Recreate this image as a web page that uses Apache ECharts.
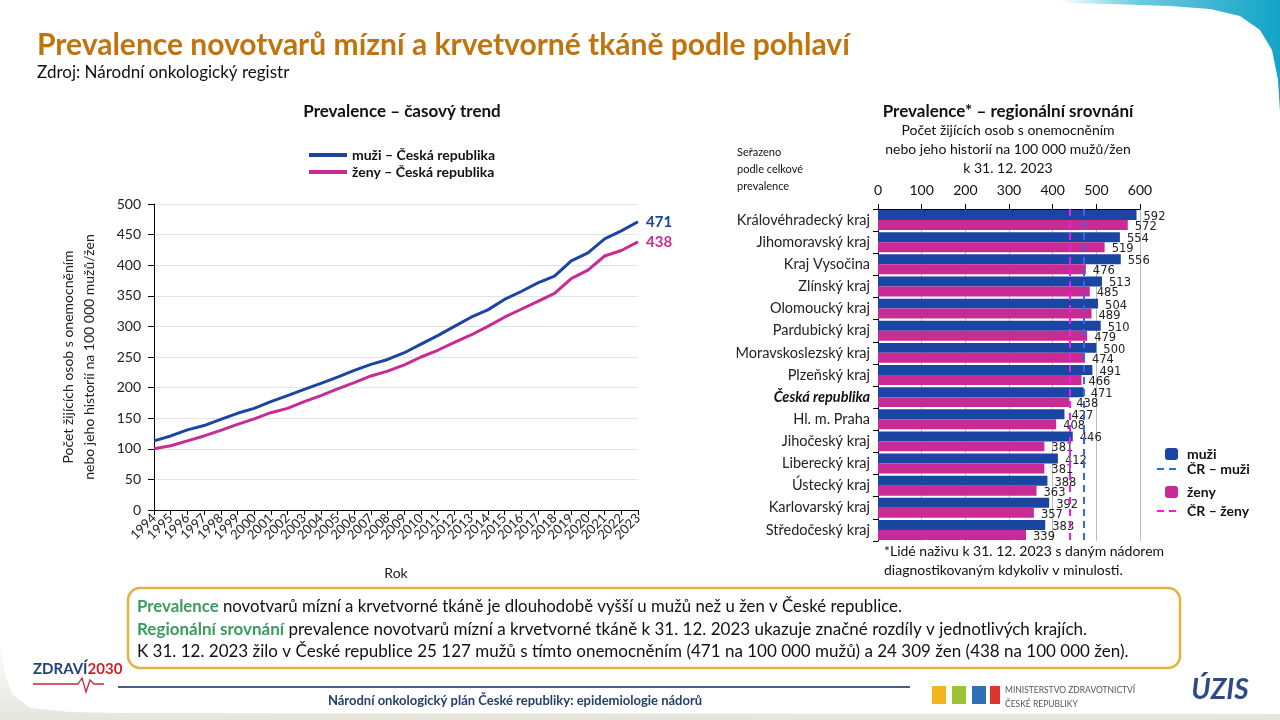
<!DOCTYPE html>
<html><head><meta charset="utf-8">
<script src="https://cdn.jsdelivr.net/npm/echarts@6/dist/echarts.min.js"></script>
<style>html,body{margin:0;padding:0;background:#fff}#c{width:1280px;height:720px}</style>
</head><body><div id="c"></div>
<script>
const FONT = 'Lato, "Open Sans", sans-serif';
const LFONT = '"DejaVu Sans", Verdana, sans-serif';
const years = ['1994','1995','1996','1997','1998','1999','2000','2001','2002','2003','2004','2005','2006','2007','2008','2009','2010','2011','2012','2013','2014','2015','2016','2017','2018','2019','2020','2021','2022','2023'];
const menTrend = [113,121,131,138,148,158,166,177,187,197,207,217,228,238,246,257,271,285,300,315,327,344,357,371,382,407,420,443,456,471];
const womenTrend = [100,105,113,121,130,140,149,159,166,177,187,198,208,219,227,237,250,261,274,286,300,315,328,341,354,378,392,415,424,438];
const regions = ['Královéhradecký kraj','Jihomoravský kraj','Kraj Vysočina','Zlínský kraj','Olomoucký kraj','Pardubický kraj','Moravskoslezský kraj','Plzeňský kraj','Česká republika','Hl. m. Praha','Jihočeský kraj','Liberecký kraj','Ústecký kraj','Karlovarský kraj','Středočeský kraj'];
const menRegion = [592,554,556,513,504,510,500,491,471,427,446,412,388,392,383];
const womenRegion = [572,519,476,485,489,479,474,466,438,408,381,381,363,357,339];
const crMen = 471, crWomen = 438;

const BLUE = '#1B45A2', PINK = '#C92B95', DBLUE = '#3566EE', DPINK = '#F01BEA';
const lin = (x2,y2,stops) => ({type:'linear', x:0, y:0, x2, y2, colorStops:stops.map(s=>({offset:s[0], color:s[1]}))});

const chart = echarts.init(document.getElementById('c'), null, {renderer:'canvas'});
const txt = (x,y,text,style) => ({type:'text', x, y, style:Object.assign({text, fontFamily:FONT, fill:'#111'}, style)});
const barLabel = {show:true, position:'right', distance:7, offset:[0,2], fontSize:11.5, color:'#222', fontFamily:LFONT};

chart.setOption({
  animation:false,
  textStyle:{fontFamily:FONT},
  grid:[
    {left:154, right:642, top:204, bottom:210},
    {left:878, right:140, top:209, bottom:179}
  ],
  legend:[
    {data:['muži – Česká republika','ženy – Česká republika'], left:304, top:143, orient:'vertical', itemGap:3,
     icon:'rect', itemWidth:38, itemHeight:4, textStyle:{fontWeight:'bold', fontSize:14, color:'#111', fontFamily:FONT}},
    {data:['muži','ženy'], left:1160, top:442, orient:'vertical', itemGap:24, itemWidth:13, itemHeight:12,
     textStyle:{fontWeight:'bold', fontSize:14, color:'#111', fontFamily:FONT, padding:[0,0,0,4]}}
  ],
  xAxis:[
    {gridIndex:0, type:'category', data:years, boundaryGap:false,
     axisLine:{lineStyle:{color:'#000'}}, axisTick:{show:true, interval:0, length:5, lineStyle:{color:'#000'}},
     axisLabel:{interval:0, rotate:45, fontSize:13, color:'#222', margin:6, fontFamily:FONT},
     name:'Rok', nameLocation:'middle', nameGap:56, nameTextStyle:{fontSize:14, color:'#222', fontFamily:FONT}},
    {gridIndex:1, type:'value', position:'top', min:0, max:600, interval:100,
     axisLine:{show:true, lineStyle:{color:'#000'}}, axisTick:{show:true, length:5, lineStyle:{color:'#000'}},
     axisLabel:{fontSize:14, color:'#111', margin:12, fontFamily:FONT},
     splitLine:{show:true, lineStyle:{color:'#bdbdbd'}}}
  ],
  yAxis:[
    {gridIndex:0, type:'value', min:0, max:500, interval:50,
     axisLine:{show:true, lineStyle:{color:'#000'}}, axisTick:{show:true, length:6, lineStyle:{color:'#000'}},
     axisLabel:{fontSize:14, color:'#222', margin:13, fontFamily:FONT},
     splitLine:{lineStyle:{color:'#e4e4e4'}}},
    {gridIndex:1, type:'category', data:regions, inverse:true,
     axisLine:{show:true, lineStyle:{color:'#000'}}, axisTick:{show:true, length:5, lineStyle:{color:'#000'}},
     axisLabel:{fontSize:14.5, color:'#222', margin:8, fontFamily:FONT,
       formatter:v => v === 'Česká republika' ? '{b|' + v + '}' : v,
       rich:{b:{fontWeight:'bold', fontStyle:'italic', fontSize:14.5, color:'#111', fontFamily:FONT}}}}
  ],
  series:[
    {name:'muži – Česká republika', type:'line', xAxisIndex:0, yAxisIndex:0, data:menTrend, showSymbol:false,
     lineStyle:{color:BLUE, width:3}, itemStyle:{color:BLUE},
     endLabel:{show:true, formatter:'{c}', color:BLUE, fontWeight:'bold', fontSize:15, distance:8, fontFamily:FONT}},
    {name:'ženy – Česká republika', type:'line', xAxisIndex:0, yAxisIndex:0, data:womenTrend, showSymbol:false,
     lineStyle:{color:PINK, width:3}, itemStyle:{color:PINK},
     endLabel:{show:true, formatter:'{c}', color:PINK, fontWeight:'bold', fontSize:15, distance:8, fontFamily:FONT}},
    {name:'muži', type:'bar', xAxisIndex:1, yAxisIndex:1, data:menRegion, barGap:'0%', barCategoryGap:'10%',
     itemStyle:{color:BLUE}, label:barLabel,
     markLine:{silent:true, symbol:'none', label:{show:false}, lineStyle:{color:DBLUE, width:2, type:[7,5]}, data:[{xAxis:crMen}]}},
    {name:'ženy', type:'bar', xAxisIndex:1, yAxisIndex:1, data:womenRegion,
     itemStyle:{color:PINK}, label:barLabel,
     markLine:{silent:true, symbol:'none', label:{show:false}, lineStyle:{color:DPINK, width:2, type:[7,5]}, data:[{xAxis:crWomen}]}}
  ],
  graphic:[
    {type:'polygon', z:-1, shape:{points:[[1060,0],[1280,0],[1280,112],[1278,80],[1272,50],[1260,30],[1240,16],[1210,9],[1170,6],[1110,4],[1060,3]]},
     style:{fill:lin(1,0,[[0,'#ffffff'],[0.35,'#6ccadf'],[1,'#12A4C6']])}},
    {type:'polygon', z:-1, shape:{points:[[0,640],[4,670],[12,694],[30,708],[70,712],[120,713],[1280,714],[1280,720],[0,720]]},
     style:{fill:lin(0,1,[[0,'#ffffff'],[1,'#e4e6dc']])}},
    txt(37,45,'Prevalence novotvarů mízní a krvetvorné tkáně podle pohlaví',{fontSize:30, fontWeight:'bold', fill:'#C0740E', textVerticalAlign:'middle'}),
    txt(37,73,'Zdroj: Národní onkologický registr',{fontSize:17, fill:'#111', textVerticalAlign:'middle'}),
    txt(402,112,'Prevalence – časový trend',{fontSize:17, fontWeight:'bold', textAlign:'center', textVerticalAlign:'middle'}),
    {type:'text', x:79, y:357, rotation:Math.PI/2, style:{text:'Počet žijících osob s onemocněním\nnebo jeho historií na 100 000 mužů/žen', fontFamily:FONT, fontSize:14, fill:'#222', textAlign:'center', textVerticalAlign:'middle', lineHeight:21}},
    txt(1008,112,'Prevalence* – regionální srovnání',{fontSize:17, fontWeight:'bold', textAlign:'center', textVerticalAlign:'middle'}),
    txt(1008,149,'Počet žijících osob s onemocněním\nnebo jeho historií na 100 000 mužů/žen\nk 31. 12. 2023',{fontSize:14, textAlign:'center', textVerticalAlign:'middle', lineHeight:19}),
    txt(737,169,'Seřazeno\npodle celkové\nprevalence',{fontSize:11, textAlign:'left', textVerticalAlign:'middle', lineHeight:17}),
    txt(884,561,'*Lidé naživu k 31. 12. 2023 s daným nádorem\ndiagnostikovaným kdykoliv v minulosti.',{fontSize:14, textAlign:'left', textVerticalAlign:'middle', lineHeight:19}),
    {type:'line', shape:{x1:1157, y1:469, x2:1180, y2:469}, style:{stroke:DBLUE, lineWidth:2, lineDash:[7,5]}},
    txt(1187,469,'ČR – muži',{fontSize:14, fontWeight:'bold', textVerticalAlign:'middle'}),
    {type:'line', shape:{x1:1157, y1:511, x2:1180, y2:511}, style:{stroke:DPINK, lineWidth:2, lineDash:[7,5]}},
    txt(1187,511,'ČR – ženy',{fontSize:14, fontWeight:'bold', textVerticalAlign:'middle'}),
    {type:'rect', shape:{x:128, y:588, width:1052, height:80, r:12}, style:{fill:'#fff', stroke:'#E2B23E', lineWidth:2.5}},
    {type:'text', x:137, y:607, style:{text:'{g|Prevalence} novotvarů mízní a krvetvorné tkáně je dlouhodobě vyšší u mužů než u žen v České republice.', fontFamily:FONT, fontSize:16.8, fill:'#111', textVerticalAlign:'middle', rich:{g:{fontWeight:'bold', fill:'#3C9A5F', fontSize:16.8, fontFamily:FONT}}}},
    {type:'text', x:137, y:630, style:{text:'{g|Regionální srovnání} prevalence novotvarů mízní a krvetvorné tkáně k 31. 12. 2023 ukazuje značné rozdíly v jednotlivých krajích.', fontFamily:FONT, fontSize:17, fill:'#111', textVerticalAlign:'middle', rich:{g:{fontWeight:'bold', fill:'#3C9A5F', fontSize:17, fontFamily:FONT}}}},
    txt(137,652,'K 31. 12. 2023 žilo v České republice 25 127 mužů s tímto onemocněním (471 na 100 000 mužů) a 24 309 žen (438 na 100 000 žen).',{fontSize:17, textVerticalAlign:'middle'}),
    {type:'text', x:33, y:669, style:{text:'{a|ZDRAVÍ}{b|2030}', fontFamily:FONT, textVerticalAlign:'middle', rich:{a:{fill:'#23407A', fontWeight:'bold', fontSize:15, fontFamily:'"Liberation Sans Narrow", Lato'}, b:{fill:'#D0202A', fontWeight:'bold', fontSize:15, fontFamily:'"Liberation Sans Narrow", Lato'}}}},
    {type:'polyline', shape:{points:[[33,684],[78,684],[82,678],[86,692],[90,680],[94,684],[104,684]]}, style:{stroke:'#C8283A', lineWidth:1.3, fill:null}},
    {type:'line', shape:{x1:118, y1:687, x2:910, y2:687}, style:{stroke:'#4A5C8E', lineWidth:2}},
    txt(515,701,'Národní onkologický plán České republiky: epidemiologie nádorů',{fontSize:13, fontWeight:'bold', fill:'#24406F', textAlign:'center', textVerticalAlign:'middle'}),
    {type:'rect', shape:{x:932, y:686, width:14, height:18}, style:{fill:'#F2B51C'}},
    {type:'rect', shape:{x:952, y:686, width:14, height:18}, style:{fill:'#9CC23A'}},
    {type:'rect', shape:{x:972, y:686, width:14, height:18}, style:{fill:'#2F6FB5'}},
    {type:'rect', shape:{x:990, y:686, width:10, height:18}, style:{fill:'#E0322F'}},
    txt(1005,690,'MINISTERSTVO ZDRAVOTNICTVÍ',{fontSize:8.5, fill:'#555', textVerticalAlign:'middle'}),
    txt(1005,704,'ČESKÉ REPUBLIKY',{fontSize:8.5, fill:'#555', textVerticalAlign:'middle'}),
    txt(1220,690,'ÚZIS',{fontSize:28, fontWeight:'bold', fontStyle:'italic', fill:'#2E4A86', textAlign:'center', textVerticalAlign:'middle'})
  ]
});
</script></body></html>
